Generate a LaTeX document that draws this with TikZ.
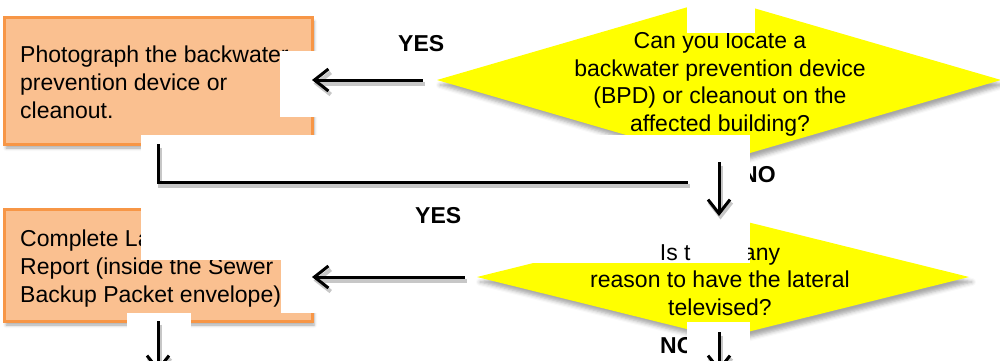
\documentclass[tikz,border=0pt]{standalone}
\usepackage{fontspec}
\setmainfont{Liberation Sans}
\usetikzlibrary{arrows.meta,shapes.geometric,shadows.blur}

\definecolor{boxfill}{RGB}{250,192,144}
\definecolor{boxline}{RGB}{247,150,70}
\definecolor{decfill}{RGB}{255,255,0}

\tikzset{
  stepbox/.style={rectangle, draw=boxline, fill=boxfill, line width=3pt,
    inner sep=0pt, outer sep=0pt,
    blur shadow={shadow xshift=2pt, shadow yshift=-4pt,
      shadow blur radius=3pt, shadow opacity=35}},
  decision/.style={diamond, fill=decfill, inner sep=0pt, outer sep=0pt,
    blur shadow={shadow xshift=3pt, shadow yshift=-5pt,
      shadow blur radius=4pt, shadow opacity=35}},
  txt/.style={font=\fontsize{23}{27.5}\selectfont, inner sep=0pt},
  lbl/.style={font=\bfseries\fontsize{23}{27.5}\selectfont, inner sep=0pt},
  patch/.style={fill=white, draw=none},
  flow/.style={draw=black, line width=3pt},
  flowshade/.style={draw=black!22, line width=4pt,
    transform canvas={shift={(1.5pt,-3.5pt)}}},
  arrowed/.style={-{Straight Barb[length=14pt,width=22pt]}}
}

% a connector with its soft shadow underneath
\newcommand\flowline[2]{%
  \draw[flowshade,#1] #2;
  \draw[flow,#1] #2;}

\begin{document}
\begin{tikzpicture}[x=1pt,y=-1pt]
\useasboundingbox (0,0) rectangle (1000,360);
\clip (0,0) rectangle (1000,360);

% process boxes and decisions
\node[stepbox, minimum width=308pt, minimum height=126.5pt] (b1) at (158,80.75) {};
\node[stepbox, minimum width=308pt, minimum height=112pt] (b2) at (158,265) {};
\node[decision, minimum width=564pt, minimum height=164pt] (d1) at (719,80) {};
\node[decision, minimum width=492pt, minimum height=122pt] (d2) at (723,277) {};

% box texts
\node[txt, anchor=base west] (b1a) at (20,62.7) {Photograph the backwater};
\node[txt, anchor=base west] (b1b) at (20,90.5) {prevention device or};
\node[txt, anchor=base west] (b1c) at (20,118.3) {cleanout.};
\node[txt, anchor=base west] (b2a) at (20,246.7) {Complete Lateral};
\node[txt, anchor=base west] (b2b) at (20,274.5) {Report (inside the Sewer};
\node[txt, anchor=base west] (b2c) at (20,302.2) {Backup Packet envelope)};

% first question
\node[txt, anchor=base] (d1a) at (720,48.5) {Can you locate a};
\node[txt, anchor=base] (d1b) at (720,76) {backwater prevention device};
\node[txt, anchor=base] (d1c) at (720,103.5) {(BPD) or cleanout on the};
\node[txt, anchor=base] (d1d) at (720,131) {affected building?};

% answer labels
\node[lbl, anchor=base west] (yes1) at (398,51) {YES};
\node[lbl, anchor=base west] (no1) at (741,182) {NO};
\node[lbl, anchor=base west] (yes2) at (415,223) {YES};
\node[lbl, anchor=base west] (no2) at (660,353) {NO};

% white cover patches
\fill[patch] (280,51) rectangle (335,117);
\fill[patch] (141,135) rectangle (750,165);
\fill[patch] (688,160) rectangle (750,205);
\fill[patch] (687,-2) rectangle (755,33);
\fill[patch] (141,206) rectangle (335,260);
\fill[patch] (281,260) rectangle (335,313);
\fill[patch] (127,313) rectangle (191,365);
\fill[patch] (525,205) rectangle (750,263);
\fill[patch] (687,322) rectangle (750,365);

% second question
\node[txt, anchor=base] (d2a) at (720,260) {Is there any};
\node[txt, anchor=base] (d2b) at (720,287.5) {reason to have the lateral};
\node[txt, anchor=base] (d2c) at (720,315) {televised?};
\fill[patch] (691,234) rectangle (748,263);

% connectors
\coordinate (lineend) at (688,182);
\coordinate (downleft) at (158,372);
\coordinate (downright) at (719,372);
\flowline{arrowed, shorten <=14pt}{(d1.west) -- (d1.west -| b1.east)}
\flowline{arrowed, shorten <=12pt}{(d2.west) -- (d2.west -| b2.east)}
\flowline{line cap=butt}{(b1.south) |- (lineend)}
\flowline{arrowed}{(d1.south) -- (d1.south |- d2.north)}
\flowline{arrowed}{(b2.south) -- (downleft)}
\flowline{arrowed}{([yshift=6pt]d2.south -| d1.south) -- (downright)}
\end{tikzpicture}
\end{document}
